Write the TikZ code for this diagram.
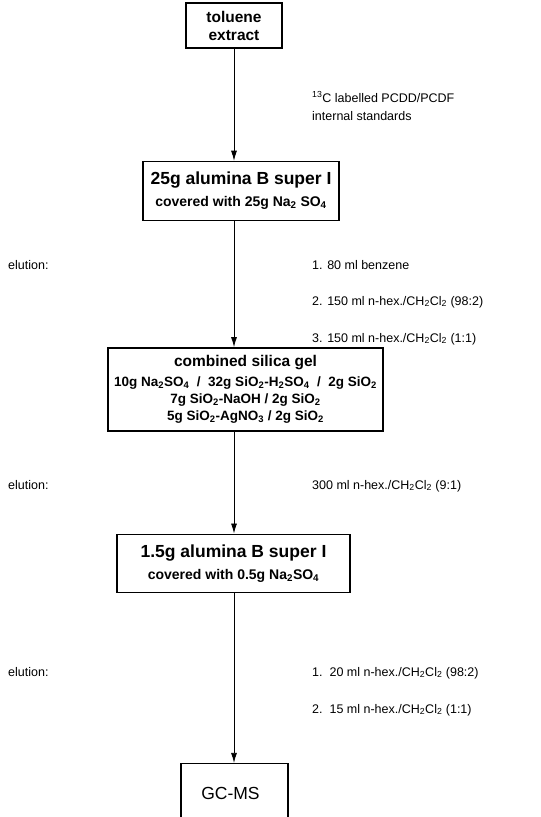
\documentclass[tikz,border=0pt]{standalone}
\usepackage{fontspec}
\setmainfont{Liberation Sans}
\usetikzlibrary{arrows.meta,positioning}
\newcommand{\boxhead}{\fontsize{15.5}{18}\selectfont\bfseries}
\newcommand{\boxbig}{\fontsize{17.5}{20}\selectfont\bfseries}
\newcommand{\boxsub}{\fontsize{14}{16}\selectfont\bfseries}
\newcommand{\boxmix}{\fontsize{13.5}{16}\selectfont\bfseries}
\tikzset{
  stage/.style={draw,line width=1.4pt,align=center,inner sep=2pt,font=\fontsize{12}{17}\selectfont},
  flow/.style={-{Latex[length=10pt,width=6pt]},line width=0.8pt},
  side/.style={anchor=base west,inner sep=0pt,font=\fontsize{12.5}{15}\selectfont},
}

\begin{document}
\begin{tikzpicture}[x=1pt,y=-1pt]
  \useasboundingbox (0,0) rectangle (541,817);
  % boxes
  \node[stage,minimum width=96pt,minimum height=45pt] (tol) at (234,25.5) {\boxhead toluene\\[1pt]\boxhead extract};
  \node[stage,minimum width=196pt,minimum height=59pt,below=112pt of tol,xshift=7pt] (alu) {\boxbig 25g alumina B super I\\[5pt]\boxsub covered with 25g Na\textsubscript{2} SO\textsubscript{4}};
  \node[stage,minimum width=275pt,minimum height=83pt,below=126pt of alu,xshift=4.5pt] (sil) {\boxhead combined silica gel\\[3pt]
    \boxmix 10g Na\textsubscript{2}SO\textsubscript{4} \ / \ 32g SiO\textsubscript{2}-H\textsubscript{2}SO\textsubscript{4} \ / \ 2g SiO\textsubscript{2}\\
    \boxmix 7g SiO\textsubscript{2}-NaOH / 2g SiO\textsubscript{2}\\
    \boxmix 5g SiO\textsubscript{2}-AgNO\textsubscript{3} / 2g SiO\textsubscript{2}};
  \node[stage,minimum width=233pt,minimum height=58pt,below=102pt of sil,xshift=-12pt] (alub) {\boxbig 1.5g alumina B super I\\[5pt]\boxsub covered with 0.5g Na\textsubscript{2}SO\textsubscript{4}};
  \node[stage,minimum width=107pt,minimum height=59pt,below=170pt of alub,xshift=1pt,font=\fontsize{17.5}{19}\selectfont] (gcms) {GC-MS\hspace*{8pt}};
  % connectors
  \foreach \x/\y in {tol/alu,alu/sil,sil/alub,alub/gcms} \draw[flow] (tol.south |- \x.south) -- (tol.south |- \y.north);
  % side texts
  \node[side] (std) at (312,102) {\textsuperscript{13}C labelled PCDD/PCDF};
  \node[side] (stdb) at (312,120) {internal standards};
  \node[side] (ela) at (8,269) {elution:};
  \node[side] (ea) at (312,269) {1. 80 ml benzene};
  \node[side] (eb) at (312,305) {2. 150 ml n-hex./CH\textsubscript{2}Cl\textsubscript{2} (98:2)};
  \node[side] (ec) at (312,342) {3. 150 ml n-hex./CH\textsubscript{2}Cl\textsubscript{2} (1:1)};
  \node[side] (elb) at (8,489) {elution:};
  \node[side] (sa) at (312,489) {300 ml n-hex./CH\textsubscript{2}Cl\textsubscript{2} (9:1)};
  \node[side] (elc) at (8,676) {elution:};
  \node[side] (fa) at (312,676) {1.\ \ 20 ml n-hex./CH\textsubscript{2}Cl\textsubscript{2} (98:2)};
  \node[side] (fb) at (312,713) {2.\ \ 15 ml n-hex./CH\textsubscript{2}Cl\textsubscript{2} (1:1)};
\end{tikzpicture}
\end{document}
